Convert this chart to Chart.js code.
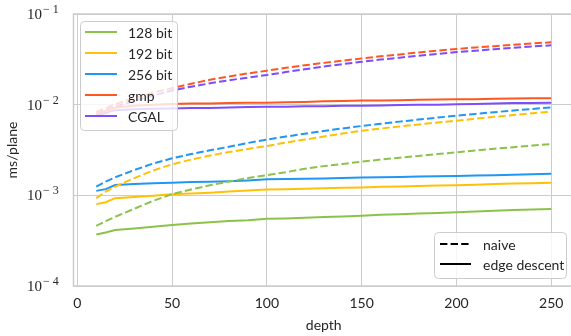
<!DOCTYPE html>
<html>
<head>
<meta charset="utf-8">
<script src="https://cdn.jsdelivr.net/npm/chart.js@4.4.0/dist/chart.umd.min.js"></script>
<style>
  html, body { margin: 0; padding: 0; background: #fff; overflow: hidden; }
  #wrap { width: 571px; height: 336px; overflow: hidden; }
  canvas { display: block; }
</style>
</head>
<body>
<div id="wrap"><canvas id="chart" width="576" height="336"></canvas></div>
<script>
// depth values (x)
const depths = [10, 15, 20, 30, 40, 50, 60, 70, 80, 90, 100, 110, 120, 130, 140, 150, 160, 170, 180, 190, 200, 210, 220, 230, 240, 250]

const seriesNames = ["128 bit", "192 bit", "256 bit", "gmp", "CGAL"]
const seriesColors = ["#8bc34a", "#ffc107", "#2196f3", "#ff5722", "#7c4dff"]
const methodNames = ["naive", "edge descent"]

// ms/plane, naive
const naive128 = [0.00046, 0.00052, 0.00058, 0.00071, 0.00087, 0.00103, 0.00116, 0.00129, 0.00142, 0.00155, 0.00167, 0.00180, 0.00196, 0.00210, 0.00222, 0.00235, 0.00248, 0.00260, 0.00272, 0.00285, 0.00298, 0.00312, 0.00326, 0.00340, 0.00354, 0.00368]
const naive192 = [0.00093, 0.00110, 0.00125, 0.00155, 0.00188, 0.00220, 0.00248, 0.00275, 0.00300, 0.00325, 0.00350, 0.00382, 0.00412, 0.00445, 0.00480, 0.00516, 0.00545, 0.00575, 0.00605, 0.00635, 0.00665, 0.00700, 0.00735, 0.00770, 0.00805, 0.00838]
const naive256 = [0.00125, 0.00142, 0.00158, 0.00190, 0.00224, 0.00256, 0.00285, 0.00314, 0.00343, 0.00378, 0.00412, 0.00445, 0.00478, 0.00512, 0.00547, 0.00582, 0.00616, 0.00650, 0.00685, 0.00720, 0.00755, 0.00790, 0.00826, 0.00862, 0.00898, 0.00935]
const naiveGmp = [0.0083, 0.0092, 0.0101, 0.0118, 0.0136, 0.0152, 0.0170, 0.0188, 0.0205, 0.0221, 0.0237, 0.0255, 0.0272, 0.0289, 0.0306, 0.0324, 0.0341, 0.0358, 0.0376, 0.0394, 0.0411, 0.0427, 0.0442, 0.0458, 0.0473, 0.0488]
const naiveCgal = [0.0079, 0.0087, 0.0095, 0.0110, 0.0126, 0.0143, 0.0158, 0.0172, 0.0186, 0.0199, 0.0212, 0.0229, 0.0246, 0.0263, 0.0280, 0.0297, 0.0314, 0.0330, 0.0347, 0.0363, 0.0380, 0.0394, 0.0409, 0.0423, 0.0438, 0.0452]

// ms/plane, edge descent
const edge128 = [0.00037, 0.00039, 0.000415, 0.00043, 0.00045, 0.00047, 0.00049, 0.000505, 0.00052, 0.00053, 0.00055, 0.000555, 0.000565, 0.000575, 0.000585, 0.000597, 0.00061, 0.00062, 0.000632, 0.00064, 0.00065, 0.000665, 0.000678, 0.00069, 0.0007, 0.000707]
const edge192 = [0.00080, 0.00084, 0.00093, 0.00096, 0.00099, 0.00103, 0.00105, 0.00107, 0.00110, 0.00113, 0.00116, 0.00117, 0.00118, 0.00120, 0.00121, 0.00122, 0.00124, 0.00125, 0.00127, 0.00128, 0.00129, 0.00131, 0.00133, 0.00135, 0.00136, 0.00138]
const edge256 = [0.00112, 0.00117, 0.00130, 0.00133, 0.00136, 0.00138, 0.00140, 0.00141, 0.00143, 0.00146, 0.00150, 0.00151, 0.00152, 0.00153, 0.00155, 0.00157, 0.00158, 0.00159, 0.00161, 0.00162, 0.00163, 0.00165, 0.00167, 0.00169, 0.00171, 0.00173]
const edgeGmp = [0.0079, 0.0085, 0.0093, 0.0097, 0.0100, 0.0102, 0.0103, 0.0103, 0.0104, 0.0105, 0.0105, 0.0106, 0.0107, 0.0109, 0.0110, 0.0111, 0.0111, 0.0112, 0.0113, 0.0114, 0.0115, 0.0115, 0.0116, 0.0117, 0.0118, 0.0118]
const edgeCgal = [0.0076, 0.0081, 0.0087, 0.0089, 0.0090, 0.0091, 0.0092, 0.0092, 0.0093, 0.0094, 0.0095, 0.0095, 0.0096, 0.0096, 0.0097, 0.0097, 0.0098, 0.0099, 0.0100, 0.0100, 0.0101, 0.0102, 0.0103, 0.0104, 0.0104, 0.0105]

const xTicks = [0, 50, 100, 150, 200, 250]
const yTickExps = [-4, -3, -2, -1]

const naiveData = [naive128, naive192, naive256, naiveGmp, naiveCgal]
const edgeData = [edge128, edge192, edge256, edgeGmp, edgeCgal]

const SANS = "Lato, 'Open Sans', sans-serif"
const SERIF = "'Liberation Serif', 'DejaVu Serif', serif"
const TEXT = "#262626"
const GRID = "#cccccc"
const DASH = [7.4, 3.2]

const toPoints = arr => arr.map((v, i) => ({ x: depths[i], y: v }))

const datasets = []
seriesNames.forEach((name, i) => {
  datasets.push({
    label: name + " naive",
    data: toPoints(naiveData[i]),
    borderColor: seriesColors[i],
    borderDash: DASH,
    borderWidth: 2,
    pointRadius: 0,
    tension: 0
  })
  datasets.push({
    label: name + " edge descent",
    data: toPoints(edgeData[i]),
    borderColor: seriesColors[i],
    borderWidth: 2,
    pointRadius: 0,
    tension: 0
  })
})

// spines + legends + y tick labels (10^k)
const decor = {
  id: "decor",
  afterDatasetsDraw(chart) {
    const ctx = chart.ctx
    const a = chart.chartArea
    ctx.save()

    // frame
    ctx.strokeStyle = GRID
    ctx.lineWidth = 1.5
    ctx.strokeRect(a.left, a.top, a.right - a.left, a.bottom - a.top)

    // y tick labels
    const y = chart.scales.y
    yTickExps.forEach(e => {
      const py = y.getPixelForValue(Math.pow(10, e))
      ctx.fillStyle = TEXT
      ctx.font = "15px " + SERIF
      ctx.textAlign = "right"
      ctx.textBaseline = "alphabetic"
      ctx.fillText("10", 42, py + 5)
      ctx.font = "12px " + SERIF
      ctx.textAlign = "left"
      ctx.fillText("\u2212 " + (-e), 43, py - 1)
    })

    // series legend
    ctx.fillStyle = "rgba(255,255,255,0.8)"
    ctx.strokeStyle = GRID
    ctx.lineWidth = 1
    ctx.beginPath()
    ctx.roundRect(80.5, 21.5, 97, 109, 4)
    ctx.fill()
    ctx.stroke()
    ctx.font = "14px " + SANS
    ctx.textAlign = "left"
    ctx.textBaseline = "middle"
    seriesNames.forEach((name, i) => {
      const ly = 32 + i * 21
      ctx.strokeStyle = seriesColors[i]
      ctx.lineWidth = 2
      ctx.setLineDash([])
      ctx.beginPath()
      ctx.moveTo(85, ly)
      ctx.lineTo(117, ly)
      ctx.stroke()
      ctx.fillStyle = TEXT
      ctx.fillText(name, 128, ly + 1)
    })

    // method legend
    ctx.fillStyle = "rgba(255,255,255,0.8)"
    ctx.strokeStyle = GRID
    ctx.lineWidth = 1
    ctx.beginPath()
    ctx.roundRect(434.5, 232.5, 132, 46, 4)
    ctx.fill()
    ctx.stroke()
    methodNames.forEach((name, i) => {
      const ly = 244 + i * 20
      ctx.strokeStyle = "#000"
      ctx.lineWidth = 2
      ctx.setLineDash(i === 0 ? DASH : [])
      ctx.beginPath()
      ctx.moveTo(440, ly)
      ctx.lineTo(471, ly)
      ctx.stroke()
      ctx.setLineDash([])
      ctx.fillStyle = TEXT
      ctx.fillText(name, 483, ly + 1)
    })
    ctx.restore()
  }
}

new Chart(document.getElementById("chart"), {
  type: "line",
  data: { datasets },
  plugins: [decor],
  options: {
    responsive: false,
    animation: false,
    devicePixelRatio: 1,
    layout: { padding: { top: 14, right: 2, left: 0, bottom: 0 } },
    plugins: { legend: { display: false }, tooltip: { enabled: false } },
    scales: {
      x: {
        type: "linear",
        min: -2,
        max: 262,
        afterBuildTicks: s => { s.ticks = xTicks.map(v => ({ value: v })) },
        afterFit: s => { s.height = 50 },
        grid: { color: GRID, drawTicks: false },
        border: { display: false },
        ticks: { color: TEXT, font: { family: SANS, size: 14 }, padding: 9, maxRotation: 0 },
        title: { display: true, text: "depth", color: TEXT, font: { family: SANS, size: 14 }, padding: { top: 0, bottom: 2 } }
      },
      y: {
        type: "logarithmic",
        min: 1e-4,
        max: 1e-1,
        afterBuildTicks: s => { s.ticks = yTickExps.map(e => ({ value: Math.pow(10, e) })) },
        afterFit: s => { s.width = 73.5 },
        grid: { color: GRID, drawTicks: false },
        border: { display: false },
        ticks: { display: false },
        title: { display: true, text: "ms/plane", color: TEXT, font: { family: SANS, size: 14 }, padding: { top: 4, bottom: 0 } }
      }
    }
  }
})
</script>
</body>
</html>
